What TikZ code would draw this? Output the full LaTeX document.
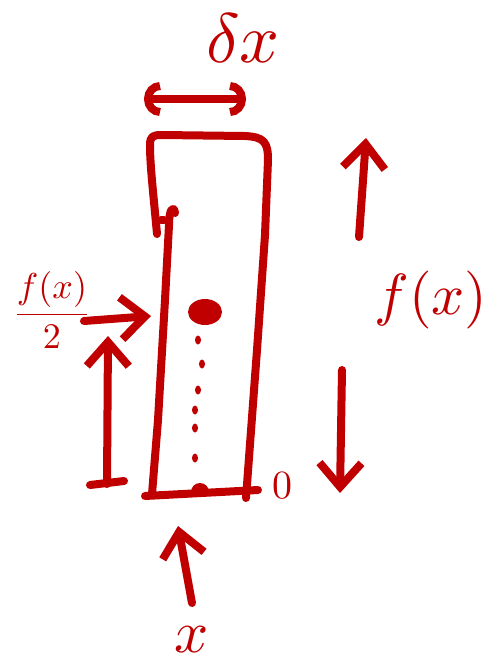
\documentclass[tikz,border=0pt]{standalone}
\usetikzlibrary{arrows.meta}
\definecolor{ink}{HTML}{C00000}

\begin{document}
\begin{tikzpicture}[x=1pt,y=-1pt,
  pen/.style={draw=ink,line width=8pt,line cap=round,line join=round},
  ar/.style={pen,-{Straight Barb[length=24pt,width=42pt]}},
  arc/.style={pen,{Arc Barb[length=16pt,width=34pt]}-{Arc Barb[length=16pt,width=34pt]}},
  lab/.style={text=ink,inner sep=0pt,scale=#1},
  lab/.default=5]
\useasboundingbox (0,0) rectangle (502,667);

% the strip
\draw[pen] (157,234) .. controls (153,190) and (150,165) .. (150,145)
  .. controls (150,136) and (153,135) .. (162,135) -- (245,136)
  .. controls (264,137) and (268,142) .. (268,160) -- (265,235)
  -- (257,350) -- (246,498);
\draw[pen] (161,220) -- (164,220);
\draw[pen] (175,213) .. controls (174,205) and (169,208) .. (169,225)
  -- (165,300) -- (158,420) -- (152,494);
\draw[pen] (145,496) -- (258,490);

% midpoint and its drop to the axis
\fill[ink] (205,312) ellipse [x radius=17pt,y radius=13pt];
\foreach \px/\py in {198/340,202/364,198/390,195/410,195/428,195/458}
  \fill[ink] (\px,\py) ellipse [x radius=3pt,y radius=4.5pt];
\fill[ink] (191,492) arc[start angle=180,end angle=0,radius=9pt] -- cycle;

% labels
\node[lab=7] (dx) at (243,38) {$\delta x$};
\node[lab=5.8] (fx) at (431,300) {$f(x)$};
\node[lab=3.6] (half) at (52,310) {$\displaystyle\frac{f(x)}{2}$};
\node[lab=6] (x) at (192,640) {$x$};
\node[lab=4] (zero) at (282,486) {$0$};

% width of the strip
\coordinate (wl) at (144,99);
\coordinate (wr) at (246,99);
\draw[arc] (wl) -- (wr);

% height of the strip
\coordinate (hu1) at (359,237);
\coordinate (hu2) at (366,138);
\draw[ar] (hu1) -- (hu2);
\coordinate (hd1) at (342,370);
\coordinate (hd2) at (340,493);
\draw[ar] (hd1) -- (hd2);

% half height
\coordinate (hb) at (107,484);
\coordinate (ht) at (108,336);
\draw[ar] (hb) -- (ht);
\draw[pen] (90,485) -- (124,481);
\coordinate (pl) at (84,321);
\coordinate (pr) at (151,316);
\draw[ar] (pl) -- (pr);

% position on the axis
\coordinate (xs) at (192,603);
\coordinate (xt) at (178,526);
\draw[ar] (xs) -- (xt);
\end{tikzpicture}
\end{document}
